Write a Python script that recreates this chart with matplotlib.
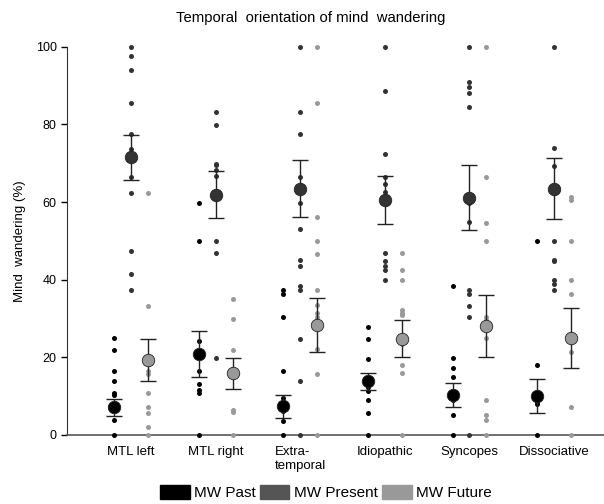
import matplotlib
matplotlib.use('Agg')
import matplotlib.pyplot as plt
from matplotlib.patches import Patch
import numpy as np

plt.rcParams['font.family'] = ['Liberation Sans', 'DejaVu Sans']

groups = ['MTL left', 'MTL right', 'Extra-\ntemporal', 'Idiopathic', 'Syncopes', 'Dissociative']

# individual subjects (%)
past = [
    [24.9, 21.9, 16.4, 14.0, 10.9, 10.4, 3.9, 0],
    [59.8, 49.9, 24.1, 16.6, 13.2, 11.7, 10.8, 0],
    [37.4, 36.2, 30.5, 16.4, 9.5, 8.4, 6.1, 3.7, 0],
    [27.9, 24.8, 19.6, 12.3, 11.4, 8.9, 5.7, 0],
    [38.3, 19.8, 17.2, 15.0, 10.8, 9.6, 8.9, 5.2, 0],
    [49.9, 18.1, 8.6, 8.0, 0],
]
present = [
    [100, 97.7, 94.0, 85.6, 77.6, 73.6, 66.5, 62.3, 47.4, 41.5, 37.4],
    [83.2, 79.8, 69.9, 69.5, 68.4, 66.6, 49.9, 46.9, 19.8],
    [100, 83.2, 77.6, 66.5, 59.8, 53.1, 45.2, 43.5, 38.3, 37.4, 24.8, 14.0, 0],
    [100, 88.6, 72.5, 66.5, 64.6, 62.6, 46.9, 44.9, 43.6, 42.6, 39.9],
    [100, 91.0, 89.7, 88.2, 84.5, 59.8, 54.9, 37.4, 36.2, 33.1, 30.5, 0],
    [100, 73.9, 69.3, 49.9, 45.2, 44.8, 40.0, 38.8, 37.4],
]
future = [
    [62.3, 33.1, 16.6, 15.7, 10.9, 7.1, 5.7, 2.0, 0],
    [35.1, 29.8, 21.9, 6.5, 5.8, 0],
    [100, 85.6, 56.1, 49.9, 46.5, 37.4, 33.4, 31.5, 30.5, 29.5, 22.2, 15.7, 0],
    [46.9, 42.6, 39.8, 32.1, 31.4, 30.8, 23.5, 18.1, 15.9, 0],
    [100, 66.5, 54.5, 49.9, 30.4, 29.7, 25.0, 8.9, 5.2, 3.9, 0],
    [61.4, 60.5, 49.9, 39.8, 36.2, 21.3, 7.1, 0],
]

# group means and SEM
past_mean = [7.1, 20.9, 7.4, 13.8, 10.3, 10.0]
past_sem = [2.2, 6.0, 3.0, 2.2, 3.0, 4.4]
present_mean = [71.6, 61.9, 63.5, 60.6, 61.1, 63.5]
present_sem = [5.8, 6.0, 7.4, 6.2, 8.4, 7.9]
future_mean = [19.3, 15.9, 28.4, 24.8, 28.1, 25.0]
future_sem = [5.4, 4.0, 6.9, 4.7, 7.9, 7.7]

fig = plt.figure(figsize=(6.04, 5.04), dpi=100)
ax = fig.add_axes([0.111, 0.137, 0.889, 0.770])

series = [
    (past, past_mean, past_sem, '#000000', -0.2),
    (present, present_mean, present_sem, '#333333', 0.0),
    (future, future_mean, future_sem, '#999999', 0.2),
]
x = np.arange(len(groups))
for pts, m, se, col, off in series:
    for i, vals in enumerate(pts):
        ax.plot(np.full(len(vals), i + off), vals, 'o', color=col, ms=3.6,
                mec='none', clip_on=False, zorder=3)
    ax.errorbar(x + off, m, yerr=se, fmt='none', ecolor='#222222', elinewidth=1,
                capsize=6, capthick=1, zorder=4, clip_on=False)
    ax.plot(x + off, m, 'o', color=col, ms=9, mec='#222222', mew=0.6,
            zorder=5, clip_on=False)

ax.set_xlim(-0.757, 5.59)
ax.set_ylim(0, 100)
ax.set_yticks(np.arange(0, 101, 20))
ax.set_xticks(x)
ax.set_xticklabels(groups, fontsize=9.5, ha='center', va='top', multialignment='left')
ax.tick_params(axis='x', length=0, pad=8)
ax.tick_params(axis='y', labelsize=9, length=4, width=1)
for s in ['top', 'right']:
    ax.spines[s].set_visible(False)
ax.spines['left'].set_color('#333333')
ax.spines['bottom'].set_color('#555555')
ax.spines['bottom'].set_linewidth(1.2)

ax.set_ylabel('Mind  wandering (%)', fontsize=9.5, labelpad=7)
fig.text(0.515, 0.965, 'Temporal  orientation of mind  wandering', ha='center',
         va='center', fontsize=10.7)

handles = [Patch(color='#000000'), Patch(color='#555555'), Patch(color='#999999')]
fig.legend(handles, ['MW Past', 'MW Present', 'MW Future'], loc='center',
           bbox_to_anchor=(0.54, 0.022), ncol=3, frameon=False, fontsize=11,
           handlelength=1.9, handleheight=1.0, handletextpad=0.3, columnspacing=0.3)

fig.savefig('out.png', dpi=100)
